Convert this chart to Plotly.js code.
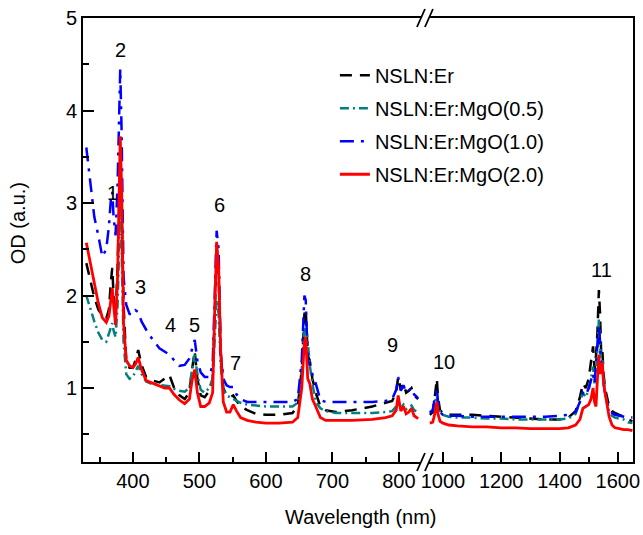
<!DOCTYPE html>
<html>
<head>
<meta charset="utf-8">
<script src="https://cdn.plot.ly/plotly-3.0.1.min.js"></script>
<style>
html,body{margin:0;padding:0;background:#fff;}
#chart{width:643px;height:535px;}
</style>
</head>
<body>
<div id="chart"></div>
<script>
// ---- Data ----
var seriesNames = ['NSLN:Er', 'NSLN:Er:MgO(0.5)', 'NSLN:Er:MgO(1.0)', 'NSLN:Er:MgO(2.0)'];

// Left segment wavelengths (nm)
var wlLeft = [330,336,342,348,354,360,364,367,369,371,374,377,379,381,383,386,390,395,400,404,408,413,420,430,440,448,455,462,470,478,485,489,493,497,502,508,515,520,523,526,529,532,536,541,546,551,556,562,572,585,600,620,640,648,654,658,660,663,666,670,675,682,690,705,730,760,780,790,796,799,803,807,811,815,819,823,829];

// Right segment wavelengths (nm)
var wlRight = [955,965,972,976,979,983,990,1000,1020,1050,1100,1150,1200,1250,1300,1350,1400,1430,1455,1470,1480,1490,1500,1508,1515,1520,1525,1530,1535,1539,1543,1547,1551,1556,1562,1570,1580,1590,1605,1620,1635,1650];

var erLeft = [2.35,2.15,1.98,1.85,1.78,1.75,1.85,2.15,2.3,2.0,1.78,2.3,3.0,3.45,3.0,1.9,1.3,1.22,1.22,1.3,1.41,1.25,1.12,1.08,1.06,1.1,1.14,1.0,0.92,0.88,0.95,1.2,1.4,1.1,0.92,0.9,0.97,1.1,1.8,2.45,2.2,1.4,1.0,0.92,0.9,0.92,0.86,0.8,0.76,0.72,0.71,0.71,0.73,0.8,1.2,1.8,1.85,1.35,1.3,1.1,0.95,0.8,0.76,0.74,0.76,0.8,0.84,0.86,0.95,1.12,0.98,1.05,0.95,0.97,1.0,0.92,0.88];
var mg05Left = [2.0,1.85,1.72,1.6,1.52,1.5,1.58,1.65,1.7,1.62,1.55,1.9,2.5,2.95,2.5,1.5,1.15,1.1,1.12,1.18,1.24,1.15,1.07,1.04,1.03,1.02,1.02,0.99,0.97,0.96,1.0,1.2,1.36,1.15,0.98,0.95,1.0,1.1,1.55,1.95,1.8,1.25,0.98,0.92,0.9,0.88,0.86,0.84,0.82,0.81,0.8,0.8,0.8,0.84,1.2,1.65,1.7,1.5,1.25,1.05,0.85,0.78,0.75,0.73,0.73,0.73,0.74,0.75,0.8,0.86,0.78,0.82,0.77,0.79,0.81,0.76,0.74];
var mg10Left = [3.6,3.2,2.85,2.65,2.42,2.5,2.75,3.05,3.12,2.85,2.65,3.2,4.0,4.45,3.8,2.2,1.9,1.8,1.79,1.84,1.82,1.72,1.63,1.52,1.43,1.39,1.36,1.3,1.24,1.25,1.32,1.42,1.52,1.3,1.17,1.12,1.12,1.25,2.0,2.7,2.5,1.4,1.1,1.03,1.01,1.01,0.93,0.88,0.85,0.85,0.85,0.85,0.85,0.88,1.3,2.0,1.95,1.3,1.25,1.15,1.05,0.87,0.85,0.85,0.85,0.85,0.86,0.88,0.98,1.12,0.97,1.03,0.95,0.98,1.0,0.93,0.89];
var mg20Left = [2.57,2.35,2.12,1.92,1.76,1.71,1.78,1.98,2.08,1.9,1.68,2.2,3.1,3.72,3.2,1.7,1.3,1.24,1.22,1.26,1.33,1.2,1.08,1.05,1.02,1.0,1.0,0.93,0.87,0.83,0.88,1.08,1.2,0.95,0.8,0.8,0.84,0.95,1.8,2.58,2.3,1.4,0.85,0.74,0.74,0.82,0.75,0.68,0.65,0.63,0.62,0.62,0.63,0.68,1.0,1.5,1.55,1.1,1.05,0.88,0.8,0.68,0.65,0.65,0.65,0.66,0.68,0.7,0.76,0.92,0.75,0.8,0.72,0.74,0.78,0.7,0.67];

var erRight = [0.71,0.74,0.9,1.05,1.1,0.9,0.76,0.73,0.71,0.71,0.71,0.7,0.69,0.68,0.67,0.66,0.66,0.68,0.75,0.9,1.05,1.0,1.1,1.3,1.45,1.2,1.35,1.6,2.06,1.8,1.35,1.4,1.15,1.0,0.92,0.8,0.75,0.73,0.71,0.69,0.66,0.64];
var mg05Right = [0.74,0.76,0.85,0.9,0.91,0.82,0.74,0.71,0.69,0.68,0.68,0.67,0.67,0.66,0.66,0.66,0.66,0.67,0.72,0.85,0.95,0.9,0.98,1.1,1.23,1.05,1.2,1.4,1.74,1.55,1.25,1.3,1.1,0.95,0.85,0.75,0.7,0.68,0.67,0.66,0.63,0.62];
var mg10Right = [0.73,0.76,0.9,0.98,1.0,0.85,0.74,0.71,0.7,0.7,0.69,0.69,0.69,0.69,0.69,0.69,0.7,0.71,0.74,0.85,0.95,0.92,1.0,1.1,1.16,1.05,1.23,1.45,1.68,1.5,1.2,1.25,1.05,0.95,0.85,0.78,0.73,0.71,0.7,0.69,0.68,0.68];
var mg20Right = [0.62,0.63,0.72,0.82,0.85,0.72,0.64,0.62,0.6,0.59,0.58,0.58,0.57,0.57,0.56,0.56,0.56,0.57,0.6,0.66,0.78,0.8,0.82,0.88,1.0,0.85,0.8,1.1,1.36,1.15,1.25,1.27,1.05,0.95,0.82,0.69,0.6,0.57,0.56,0.55,0.55,0.54];

// Peak labels
var peakLabels = ['1','2','3','4','5','6','7','8','9','10','11'];
var peakX      = [370,381,412,456,492,530,554,660,791,1003,1545];
var peakY      = [3.11,4.65,2.09,1.68,1.68,2.98,1.27,2.23,1.46,1.28,2.28];
var peakAxis   = ['x','x','x','x','x','x','x','x','x','x2','x2'];

// ---- Styles ----
var colors = ['#000000', '#008080', '#0000ff', '#ff0000'];
var dashes = ['12px,8px', '9px,4px,2px,4px', '14px,7px,3px,7px', 'solid'];
var widths = [2.5, 2.5, 2.5, 2.8];
var leftVals = [erLeft, mg05Left, mg10Left, mg20Left];
var rightVals = [erRight, mg05Right, mg10Right, mg20Right];

var FONT = 'Liberation Sans, Arial, Helvetica, sans-serif';
var traces = [];
for (var i = 0; i < seriesNames.length; i++) {
  traces.push({
    x: wlLeft, y: leftVals[i], xaxis: 'x', yaxis: 'y', mode: 'lines',
    name: seriesNames[i], legendgroup: 'g' + i,
    line: {color: colors[i], width: widths[i], dash: dashes[i]}
  });
}
for (var j = 0; j < seriesNames.length; j++) {
  traces.push({
    x: wlRight, y: rightVals[j], xaxis: 'x2', yaxis: 'y2', mode: 'lines',
    name: seriesNames[j], legendgroup: 'g' + j, showlegend: false,
    line: {color: colors[j], width: widths[j], dash: dashes[j]}
  });
}

var annotations = [];
for (var k = 0; k < peakLabels.length; k++) {
  annotations.push({
    text: peakLabels[k], x: peakX[k], y: peakY[k],
    xref: peakAxis[k], yref: 'y', showarrow: false,
    xanchor: 'center', yanchor: 'middle',
    font: {family: FONT, size: 20, color: '#000'}
  });
}
annotations.push({
  text: 'Wavelength (nm)', xref: 'paper', yref: 'paper', x: 0.505, y: -0.124,
  showarrow: false, xanchor: 'center', yanchor: 'middle',
  font: {family: FONT, size: 20, color: '#000'}
});
annotations.push({
  text: 'OD (a.u.)', xref: 'paper', yref: 'paper', x: -0.118, y: 0.538,
  textangle: -90, showarrow: false, xanchor: 'center', yanchor: 'middle',
  font: {family: FONT, size: 20, color: '#000'}
});

var leftEnd = 0.6145, rightStart = 0.629;
function slash(xa, ya) {
  return {type: 'line', xref: 'paper', yref: 'paper',
    xsizemode: 'pixel', ysizemode: 'pixel', xanchor: xa, yanchor: ya,
    x0: -4, x1: 4, y0: -9, y1: 9,
    line: {color: '#000', width: 1.8}};
}
var shapes = [slash(leftEnd, 0), slash(rightStart, 0), slash(leftEnd, 1), slash(rightStart, 1)];

var axisCommon = {
  showgrid: false, zeroline: false, showline: true, linecolor: '#000', linewidth: 2,
  ticks: 'inside', tickcolor: '#000', tickwidth: 2, ticklen: 10,
  tickfont: {family: FONT, size: 20, color: '#000'}
};

var layout = {
  width: 643, height: 535,
  margin: {l: 83, r: 10, t: 18, b: 73, pad: 0},
  paper_bgcolor: '#fff', plot_bgcolor: '#fff',
  showlegend: true,
  legend: {x: 0.458, y: 0.915, xanchor: 'left', yanchor: 'top',
    bgcolor: 'rgba(0,0,0,0)', borderwidth: 0, tracegroupgap: 4,
    font: {family: FONT, size: 20, color: '#000'}},
  xaxis: Object.assign({}, axisCommon, {
    domain: [0, leftEnd], range: [325, 833.3], anchor: 'y',
    tick0: 0, dtick: 100, mirror: true,
    minor: {dtick: 50, ticks: 'inside', ticklen: 5, tickwidth: 2, tickcolor: '#000', showgrid: false}
  }),
  xaxis2: Object.assign({}, axisCommon, {
    domain: [rightStart, 1], range: [952, 1652], anchor: 'y2',
    tick0: 0, dtick: 200, mirror: true,
    minor: {dtick: 100, ticks: 'inside', ticklen: 5, tickwidth: 2, tickcolor: '#000', showgrid: false}
  }),
  yaxis: Object.assign({}, axisCommon, {
    domain: [0, 1], range: [0.2, 5], anchor: 'x',
    tick0: 0, dtick: 1, ticklen: 11,
    minor: {dtick: 0.5, ticks: 'inside', ticklen: 6, tickwidth: 2, tickcolor: '#000', showgrid: false}
  }),
  yaxis2: {
    domain: [0, 1], range: [0.2, 5], anchor: 'x2', side: 'right', matches: 'y',
    showgrid: false, zeroline: false, showline: true, linecolor: '#000', linewidth: 2,
    ticks: '', showticklabels: false
  },
  annotations: annotations,
  shapes: shapes
};

Plotly.newPlot('chart', traces, layout, {displayModeBar: false, staticPlot: true});
</script>
</body>
</html>
